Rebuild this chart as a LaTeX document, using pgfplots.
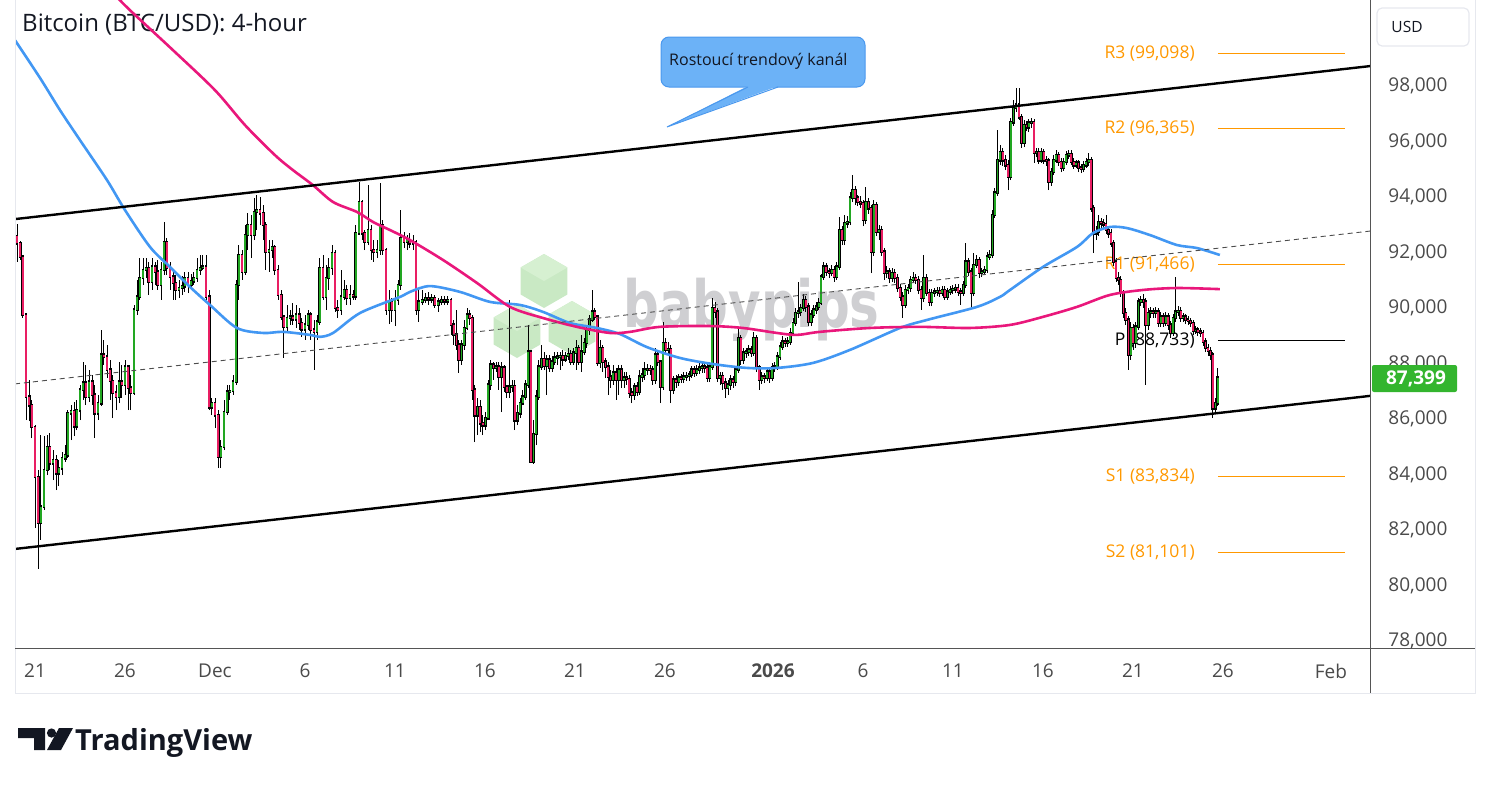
\documentclass[border=0pt]{standalone}
\usepackage{fontspec}
\setmainfont{Open Sans}
\newfontfamily\wmfont{DejaVu Sans}
\usepackage{pgfplots}
\usepackage{pgfplotstable}
\pgfplotsset{compat=1.18}

\newcommand\fs[1]{\fontsize{#1}{#1}\selectfont}

\definecolor{cup}{HTML}{22A722}
\definecolor{cdown}{HTML}{E91E63}
\definecolor{maBlue}{HTML}{4297F3}
\definecolor{maPink}{HTML}{E9177B}
\definecolor{pivotOr}{HTML}{FF9800}
\definecolor{ticktxt}{HTML}{4A4A4A}
\definecolor{midgray}{HTML}{4D4D4D}
\definecolor{frameLight}{HTML}{E6E8EE}
\definecolor{frameDark}{HTML}{555555}
\definecolor{callFill}{HTML}{6CB2F7}
\definecolor{callDraw}{HTML}{4A98EE}
\definecolor{priceGreen}{HTML}{33B52E}
\definecolor{wmGray}{HTML}{CFCFD2}
\definecolor{hexGreen}{HTML}{C9E9C4}
\definecolor{hexTop}{HTML}{D6F0D1}
\definecolor{tvDark}{HTML}{131722}

% 4-hour candles, x = days after 21 Nov
\pgfplotstableread{
x o h l c
-1.00 92500 92930 91570 92250
-0.83 92250 92320 91640 91750
-0.67 91750 91820 89550 89660
-0.50 89660 89730 85870 86710
-0.33 86710 87320 85830 86410
-0.17 86410 86600 85220 85620
0.00 85620 85690 81980 83820
0.17 83820 84070 80510 82160
0.33 82160 85330 81550 82740
0.50 82740 85290 82630 84070
0.67 84070 85330 83890 84900
0.83 84900 85400 84070 84320
1.00 84320 84790 83710 84430
1.17 84430 84610 83350 83960
1.33 83960 84430 83490 84140
1.50 84140 84720 83890 84500
1.67 84500 84970 84360 84610
1.83 84610 86230 84500 86120
2.00 86120 86410 85150 86190
2.17 86190 86520 85290 85650
2.33 85650 86600 85510 86230
2.50 86230 87140 85870 86960
2.67 86960 87970 86600 87210
2.83 87210 87860 86410 86710
3.00 86710 87680 86520 87250
3.17 87250 87500 86410 86780
3.33 86780 87140 85220 86120
3.50 86120 86780 85870 86480
3.67 86480 89120 86370 88220
3.83 88220 88760 87860 88150
4.00 88150 88580 87390 87680
4.17 87680 88040 86600 87280
4.33 87280 87500 85940 86850
4.50 86850 87140 86230 86710
4.67 86710 87970 86480 87250
4.83 87250 87860 86670 87140
5.00 87140 88040 86780 87790
5.17 87790 87860 86230 87030
5.33 87030 87500 86230 86850
5.50 86850 90020 86780 89840
5.67 89840 90920 89660 90310
5.83 90310 91710 90200 90990
6.00 90990 91710 90740 91280
6.17 91280 91710 90990 91350
6.33 91350 91570 90380 90850
6.50 90850 91710 90560 91390
6.67 91390 91570 90740 91210
6.83 91210 91640 90560 90740
7.00 90740 91570 90200 91280
7.17 91280 93010 91100 92290
7.33 92290 92430 91100 91350
7.50 91350 91570 90560 91030
7.67 91030 91280 90200 90810
7.83 90810 91100 90200 90560
8.00 90560 90920 90270 90630
8.17 90630 91060 90380 90700
8.33 90700 91210 90490 90990
8.50 90990 91210 90450 90740
8.67 90740 91130 90560 90880
8.83 90880 91210 90740 90990
9.00 90990 91710 90850 91280
9.17 91280 91820 91100 91350
9.33 91350 91820 91280 91390
9.50 91390 91820 90200 90310
9.67 90310 90560 86230 86340
9.83 86340 86670 86050 86480
10.00 86480 86670 85580 86050
10.17 86050 86230 84140 84540
10.33 84540 85150 84140 84900
10.50 84900 86600 84790 86160
10.67 86160 87140 86050 86890
10.83 86890 87140 86600 86920
11.00 86920 87500 86780 87250
11.17 87250 90920 87140 90740
11.33 90740 92180 90200 91820
11.50 91820 92000 90920 91210
11.67 91210 92900 91100 92540
11.83 92540 93330 92000 92900
12.00 92900 93260 91710 92540
12.17 92540 93880 92360 93370
12.33 93370 93980 92720 93440
12.50 93440 93910 92900 93330
12.67 93330 93620 92360 92900
12.83 92900 93010 91280 91930
13.00 91930 92360 91210 92000
13.17 92000 92360 91710 92110
13.33 92110 92180 91100 91280
13.50 91280 91460 90200 90380
13.67 90380 90560 89480 89590
13.83 89590 89660 88110 89230
14.00 89230 90020 89050 89550
14.17 89550 89840 89300 89590
14.33 89590 90090 89300 89510
14.50 89510 90020 89190 89660
14.67 89660 89910 89120 89370
14.83 89370 89550 88870 89150
15.00 89150 89660 88760 89300
15.17 89300 89840 89120 89660
15.33 89660 89770 88760 89120
15.50 89120 89480 87680 89050
15.67 89050 89660 88760 89410
15.83 89410 91710 89300 91350
16.00 91350 91820 90200 90310
16.17 90310 91460 89840 90990
16.33 90990 91710 90560 91350
16.50 91350 92180 91100 91890
16.67 91890 92000 89770 89910
16.83 89910 90200 89550 89840
17.00 89840 91280 89660 90310
17.17 90310 90920 90200 90560
17.33 90560 90740 90020 90270
17.50 90270 90740 90020 90380
17.67 90380 90560 90200 90340
17.83 90340 92900 90200 92610
18.00 92610 94450 92540 93730
18.17 93730 93800 92360 92610
18.33 92610 92720 92000 92290
18.50 92290 94340 92180 92720
18.67 92720 92900 91640 92000
18.83 92000 92360 91570 91930
19.00 91930 92360 91710 92000
19.17 92000 94420 91820 92900
19.33 92900 93080 91820 92000
19.50 92000 92070 89660 89840
19.67 89840 90560 89330 90130
19.83 90130 90270 89410 89840
20.00 89840 90560 89260 90200
20.17 90200 90920 90020 90740
20.33 90740 93440 90560 92430
20.50 92430 92650 92070 92290
20.67 92290 92540 92000 92360
20.83 92360 92610 92070 92250
21.00 92250 92540 92000 92290
21.17 92290 92360 89660 89840
21.33 89840 90560 89410 90130
21.51 90130 90560 90020 90200
21.69 90200 90450 90090 90270
21.86 90270 90490 90020 90230
22.04 90230 90410 90090 90270
22.22 90270 90380 89910 90020
22.40 90020 90270 89770 90130
22.58 90130 90340 90020 90200
22.75 90200 90340 90020 90160
22.93 90160 90340 90020 90200
23.11 90200 90270 88940 89300
23.26 89300 89480 88580 88940
23.41 88940 89840 88400 88580
23.55 88580 88760 87570 88040
23.70 88040 88760 87860 88580
23.85 88580 89480 88400 89190
24.00 89190 89910 89120 89660
24.15 89660 89840 89300 89550
24.29 89550 89660 86600 86960
24.44 86960 87140 85080 86050
24.59 86050 86670 85330 86340
24.74 86340 86600 85440 85760
24.88 85760 86050 85330 85690
25.03 85690 86160 85510 85940
25.18 85940 87320 85870 87140
25.33 87140 88040 86960 87860
25.48 87860 87970 87320 87750
25.62 87750 87970 87610 87790
25.77 87790 87970 86960 87430
25.92 87430 87970 86160 87750
26.07 87750 87860 86890 87070
26.22 87070 87140 86670 86890
26.36 86890 90200 86670 87070
26.51 87070 87320 86890 87100
26.66 87100 87320 85510 85870
26.81 85870 86410 85690 86120
26.96 86120 86670 85940 86480
27.10 86480 86960 86410 86710
27.25 86710 87320 86600 87140
27.40 87140 89300 87030 88330
27.55 88330 88400 84320 84360
27.69 84360 85870 84290 85370
27.84 85370 86960 84970 86710
27.99 86710 88040 86600 87790
28.14 87790 88580 87680 88070
28.29 88070 88330 87680 87820
28.43 87820 88220 86780 88040
28.58 88040 88220 87610 87750
28.73 87750 88180 87610 87970
28.88 87970 88330 87860 88110
29.03 88110 88330 87860 88150
29.17 88150 88330 87680 88180
29.32 88180 88400 87820 88070
29.47 88070 88330 87970 88180
29.62 88180 88470 88040 88250
29.77 88250 88400 87860 87970
29.91 87970 88470 87860 88290
30.06 88290 88760 87680 88470
30.21 88470 88580 87860 87970
30.36 87970 88940 87610 88330
30.51 88330 88830 88220 88650
30.65 88650 89300 88470 89120
30.80 89120 89660 88940 89480
30.95 89480 90560 89410 89770
31.10 89770 89910 89480 89590
31.24 89590 89660 87820 87930
31.39 87930 88760 87750 88470
31.54 88470 88580 87610 87970
31.69 87970 88110 87390 87790
31.84 87790 87970 86780 87430
31.98 87430 87680 87030 87320
32.13 87320 87860 87140 87570
32.28 87570 87750 86600 87320
32.44 87320 87860 86780 87680
32.58 87680 87860 87030 87320
32.73 87320 87610 87030 87390
32.87 87390 87610 87140 87350
33.02 87350 87500 86670 86850
33.16 86850 87030 86480 86780
33.31 86780 87210 86600 87070
33.45 87070 87250 86740 86890
33.59 86890 87680 86780 87430
33.74 87430 87750 87250 87500
33.88 87500 87970 87320 87680
34.03 87680 87890 87500 87710
34.17 87710 87860 87500 87680
34.32 87680 87820 87140 87320
34.46 87320 88470 87170 88220
34.60 88220 88400 87820 87970
34.75 87970 88040 86480 87070
34.89 87070 89410 86960 88650
35.04 88650 88830 88220 88400
35.18 88400 88690 88180 88430
35.33 88430 88580 86480 86960
35.47 86960 87460 86810 87320
35.61 87320 87500 87030 87250
35.76 87250 87530 87100 87390
35.90 87390 87530 87210 87350
36.05 87350 87610 87210 87430
36.19 87430 87610 87280 87460
36.34 87460 87640 87280 87500
36.48 87500 87820 87390 87680
36.62 87680 87820 87430 87570
36.77 87570 87860 87460 87680
36.91 87680 87970 87530 87750
37.06 87750 87970 87570 87790
37.20 87790 87970 87570 87750
37.35 87750 87890 87250 87390
37.49 87390 87970 87250 87790
37.63 87790 90270 87680 89910
37.78 89910 90130 89550 89770
37.92 89770 89910 87250 87390
38.07 87390 87610 87140 87460
38.21 87460 87610 86960 87210
38.36 87210 87390 86670 87030
38.50 87030 87320 86780 87140
38.64 87140 87500 86960 87320
38.79 87320 87460 87030 87250
38.93 87250 87820 87100 87680
39.08 87680 89230 87570 88830
39.22 88830 88940 87860 88040
39.37 88040 88470 87890 88290
39.51 88290 88470 88110 88330
39.66 88330 88580 88180 88400
39.80 88400 88540 88150 88290
39.94 88290 89050 88180 88830
40.09 88830 88940 87610 87750
40.23 87750 87860 86960 87320
40.38 87320 87610 87170 87430
40.52 87430 87570 87210 87390
40.67 87390 87750 87280 87610
40.81 87610 87750 87210 87390
40.95 87390 87930 87280 87750
41.10 87750 87970 87610 87790
41.24 87790 88330 87680 88150
41.39 88150 88690 88040 88510
41.53 88510 88900 88400 88690
41.68 88690 88830 88510 88650
41.82 88650 88870 88510 88690
41.96 88690 89190 88580 89010
42.11 89010 89550 88900 89370
42.25 89370 89910 89260 89730
42.40 89730 90850 89550 89770
42.54 89770 90050 89620 89910
42.69 89910 90410 89800 90200
42.83 90200 90340 89770 89950
42.97 89950 90090 89260 89410
43.12 89410 89840 89260 89660
43.26 89660 90020 89550 89840
43.41 89840 90130 89700 89950
43.55 89950 90270 89840 90090
43.67 90090 91130 90020 91030
43.81 91030 91570 90920 91390
43.96 91390 91530 91060 91210
44.11 91210 91350 90990 91170
44.26 91170 91460 91060 91280
44.40 91280 91420 90850 91030
44.55 91030 91570 90920 91390
44.69 91390 93190 91280 92720
44.84 92720 92860 92180 92360
44.99 92360 93260 92180 92970
45.13 92970 93220 92790 93010
45.28 93010 94090 92900 93880
45.43 93880 94700 93730 94160
45.57 94160 94310 93620 93880
45.72 93880 93980 93580 93730
45.87 93730 93950 93510 93690
46.01 93690 93800 92860 93080
46.16 93080 94270 92930 93730
46.31 93730 93880 93300 93510
46.45 93510 93620 91170 91930
46.60 91930 93800 91780 93620
46.74 93620 93730 92500 92650
46.89 92650 92900 92360 92720
47.04 92720 92860 91780 91930
47.18 91930 92070 90920 91170
47.33 91170 91420 90990 91210
47.48 91210 91350 90810 90990
47.62 90990 91350 90850 91170
47.77 91170 91310 90810 90990
47.92 90990 91130 90490 90630
48.06 90630 90770 90160 90310
48.21 90310 90490 89550 90020
48.35 90020 90740 89910 90560
48.50 90560 90770 90410 90630
48.65 90630 91060 90490 90920
48.79 90920 91210 90810 90990
48.94 90990 91130 90770 90920
49.09 90920 91060 90410 90560
49.23 90560 90700 89840 90270
49.38 90270 91820 90130 90990
49.53 90990 91130 90340 90450
49.67 90450 90590 89980 90130
49.82 90130 90590 89980 90450
49.97 90450 90630 90310 90490
50.11 90490 90670 90340 90520
50.26 90520 90670 90310 90450
50.40 90450 90700 90340 90560
50.55 90560 90700 90200 90310
50.70 90310 90630 90200 90490
50.84 90490 90700 90380 90560
50.99 90560 90740 90410 90590
51.14 90590 90770 90450 90630
51.28 90630 90770 90340 90490
51.43 90490 90630 90020 90450
51.58 90450 90880 90340 90740
51.72 90740 92250 90630 91570
51.87 91570 91710 91060 91210
52.01 91210 91350 89950 90450
52.16 90450 91890 90340 91460
52.31 91460 91820 91350 91640
52.45 91640 91750 90990 91170
52.60 91170 91350 91030 91210
52.75 91210 91420 91100 91280
52.89 91280 91930 91170 91750
53.04 91750 92000 91640 91820
53.19 91820 93440 91710 93260
53.33 93260 94240 93150 94060
53.48 94060 96320 93950 95240
53.63 95240 95780 95060 95530
53.77 95530 95680 95030 95240
53.92 95240 95420 94880 95060
54.06 95060 95240 94160 94630
54.21 94630 96760 94520 96610
54.36 96610 97400 96470 97120
54.50 97120 97840 96970 97230
54.67 97230 97840 96680 96790
54.81 96790 96900 95680 95860
54.95 95860 96680 95710 96500
55.08 96500 96650 96290 96430
55.22 96430 96720 96250 96580
55.36 96580 96760 96400 96610
55.50 96610 96720 95140 95500
55.64 95500 95680 95350 95530
55.77 95530 95680 95100 95240
55.91 95240 95680 95140 95530
56.05 95530 95640 95100 95240
56.19 95240 95390 95030 95210
56.33 95210 95320 94160 94450
56.47 94450 94960 94310 94810
56.60 94810 95420 94700 95240
56.74 95240 95600 95140 95420
56.88 95420 95530 95030 95170
57.02 95170 95320 94810 94960
57.16 94960 95320 94850 95170
57.29 95170 95570 95060 95420
57.43 95420 95600 95280 95460
57.57 95460 95600 95060 95170
57.71 95170 95320 94920 95060
57.85 95060 95240 94960 95140
57.98 95140 95240 94810 94960
58.12 94960 95100 94780 94920
58.26 94920 95210 94810 95060
58.40 95060 95320 94960 95170
58.54 95170 95500 95030 95240
58.68 95240 95350 93370 93510
58.81 93510 93620 91890 92610
58.95 92610 92860 92360 92650
59.09 92650 93260 92500 93010
59.23 93010 93150 92790 92970
59.37 92970 93110 92720 92930
59.50 92930 93260 92570 92720
59.64 92720 92860 92430 92610
59.78 92610 92750 92110 92250
59.92 92250 92360 91420 91570
60.06 91570 91710 90850 90990
60.19 90990 91210 90740 90920
60.33 90920 91060 90310 90450
60.47 90450 90560 89550 89730
60.61 89730 89910 89300 89480
60.75 89480 89620 87680 88220
60.88 88220 89410 88040 89190
61.02 89190 89340 88400 88650
61.16 88650 89410 88470 89230
61.30 89230 90270 89120 90130
61.44 90130 90340 89980 90200
61.58 90200 90410 89910 90130
61.71 90130 90270 87140 89300
61.85 89300 89910 89120 89730
61.99 89730 89950 89550 89770
62.13 89770 89910 89550 89730
62.27 89730 89950 89550 89770
62.40 89770 89910 89230 89370
62.54 89370 89770 89230 89590
62.68 89590 89730 89230 89370
62.82 89370 89770 89260 89590
62.96 89590 89730 89120 89300
63.09 89300 89440 88830 89010
63.23 89010 89690 88900 89550
63.37 89550 91030 89410 89770
63.51 89770 89980 89620 89800
63.65 89800 89950 89410 89550
63.78 89550 89730 89410 89590
63.92 89590 89690 89330 89480
64.06 89480 89620 89300 89440
64.20 89440 89550 89230 89370
64.34 89370 89480 88940 89080
64.48 89080 89260 88970 89120
64.61 89120 89230 88900 89050
64.75 89050 89190 88870 89010
64.89 89010 89120 88540 88690
65.03 88690 88830 88330 88470
65.17 88470 88610 88180 88360
65.30 88360 88510 88040 88220
65.44 88220 88330 85940 86300
65.58 86300 86670 86090 86480
65.72 86480 87750 86370 87399
}\candles

\begin{document}
\begin{tikzpicture}
\begin{scope}[x=1pt,y=-1pt]
  \path[use as bounding box] (0,0) rectangle (1491,785);
  % title
  \node[anchor=base west, inner sep=0pt, text=tvDark, font=\fs{24}] at (22,31) {Bitcoin (BTC/USD): 4-hour};
  % watermark
  \foreach \cx/\cy in {544/281, 517/331, 572/328} {
    \fill[hexGreen] (\cx,\cy) +(0,-27) -- +(23.4,-13.5) -- +(23.4,13.5) -- +(0,27) -- +(-23.4,13.5) -- +(-23.4,-13.5) -- cycle;
    \fill[hexTop] (\cx,\cy) +(0,-27) -- +(23.4,-13.5) -- +(0,0) -- +(-23.4,-13.5) -- cycle;
  }
  \node[anchor=base west, inner sep=0pt, text=wmGray, yscale=1.3, transform shape,
        font=\wmfont\bfseries\fs{50}] at (623,327) {babypips};
\end{scope}

\begin{axis}[
  at={(15pt,-648pt)}, anchor=south west,
  scale only axis, width=1355pt, height=648pt,
  xmin=-1.111, xmax=74.167, ymin=77656, ymax=101010,
  axis x line*=bottom, axis y line*=right,
  axis line style={draw=none}, tick style={draw=none},
  major tick length=0pt,
  scaled x ticks=false, scaled y ticks=false,
  xtick={0,5,10,15,20,25,30,35,41,46,51,56,61,66,72},
  xticklabels={21,26,Dec,6,11,16,21,26,\textbf{2026},6,11,16,21,26,Feb},
  ytick={78000,80000,82000,84000,86000,88000,90000,92000,94000,96000,98000},
  yticklabels={{78,000},{80,000},{82,000},{84,000},{86,000},{88,000},{90,000},{92,000},{94,000},{96,000},{98,000}},
  tick label style={font=\fs{19}, text=ticktxt, inner sep=0pt},
  xticklabel style={anchor=center, yshift=-23pt},
  yticklabel style={anchor=center, xshift=48pt, yshift=-2.5pt},
  colormap={candle}{color=(cdown) color=(cup)},
  point meta min=-1, point meta max=1,
]
% pivot labels
\node[anchor=east, inner sep=0pt, text=pivotOr, font=\fs{17.5}] at (axis cs:64.44,99098) {R3 (99,098)};
\node[anchor=east, inner sep=0pt, text=pivotOr, font=\fs{17.5}] at (axis cs:64.44,96365) {R2 (96,365)};
\node[anchor=east, inner sep=0pt, text=pivotOr, font=\fs{17.5}] at (axis cs:64.44,91466) {R1 (91,466)};
\node[anchor=east, inner sep=0pt, text=black, font=\fs{17.5}] at (axis cs:64.44,88733) {P (88,733)};
\node[anchor=east, inner sep=0pt, text=pivotOr, font=\fs{17.5}] at (axis cs:64.44,83834) {S1 (83,834)};
\node[anchor=east, inner sep=0pt, text=pivotOr, font=\fs{17.5}] at (axis cs:64.44,81101) {S2 (81,101)};

% candles: wicks, body outline, body colour
\addplot[black, line width=0.9pt, quiver={u=0, v=\thisrow{h}-\thisrow{l}}] table[x=x, y=l] {\candles};
\addplot[black, line width=2.9pt, line cap=rect, quiver={u=0, v=\thisrow{c}-\thisrow{o}}] table[x=x, y=o] {\candles};
\addplot[line width=1.7pt, point meta={min(max(\thisrow{c}-\thisrow{o},-1),1)},
  quiver={u=0, v=\thisrow{c}-\thisrow{o}, colored=mapped color}] table[x=x, y=o] {\candles};

% moving averages
\addplot[maBlue, line width=2.6pt, smooth] coordinates {
(-1.11,99560) (0.28,98200) (1.39,97040) (2.50,95960) (4.00,94520) (5.00,93440)
(6.39,92110) (7.50,91390) (8.61,90670) (9.72,90020) (11.22,89190) (12.67,89010)
(13.78,89050) (15.28,88940) (15.83,88870) (16.56,89010) (18.06,89730) (20.28,90310)
(20.83,90490) (21.94,90700) (23.61,90490) (25.28,90130) (26.94,90020) (28.22,89770)
(29.72,89370) (31.22,89190) (32.50,88970) (34.00,88500) (35.83,88110) (37.67,87890)
(39.56,87750) (41.22,87750) (43.22,87930) (45.28,88400) (48.06,89190) (49.56,89480)
(52.33,89950) (53.61,90310) (54.17,90560) (56.00,91390) (57.89,92110) (58.78,92610)
(59.72,92830) (60.67,92790) (61.94,92540) (63.44,92180) (64.56,92070) (65.83,91820)
};
\addplot[maPink, line width=2.6pt, smooth] coordinates {
(4.17,101370) (5.28,100640) (7.67,99200) (10.00,97760) (11.67,96500) (13.33,95420)
(14.33,94880) (15.44,94340) (16.56,93730) (17.89,93370) (18.78,93010) (19.72,92720)
(20.83,92360) (22.67,91640) (24.56,90810) (26.39,89950) (28.22,89550) (30.11,89230)
(31.94,89010) (33.06,89050) (34.72,89230) (37.50,89260) (39.33,89190) (41.22,89010)
(42.33,88940) (43.61,89050) (46.39,89190) (49.17,89230) (51.94,89190) (54.17,89300)
(56.00,89590) (57.89,89950) (59.72,90380) (61.56,90560) (63.44,90630) (65.83,90590)
};

% rising channel
\addplot[black, line width=2.4pt] coordinates {(-1.111,93114) (74.167,98628)};
\addplot[black, line width=2.4pt] coordinates {(-1.111,81226) (74.167,86742)};
\addplot[midgray, line width=0.9pt, dash pattern=on 5pt off 4pt] coordinates {(-1.111,87174) (74.167,92682)};

% pivot levels
\addplot[pivotOr, line width=1.1pt] coordinates {(65.72,99098) (72.78,99098)};
\addplot[pivotOr, line width=1.1pt] coordinates {(65.72,96365) (72.78,96365)};
\addplot[pivotOr, line width=1.1pt] coordinates {(65.72,91466) (72.78,91466)};
\addplot[black, line width=1.1pt] coordinates {(65.72,88733) (72.78,88733)};
\addplot[pivotOr, line width=1.1pt] coordinates {(65.72,83834) (72.78,83834)};
\addplot[pivotOr, line width=1.1pt] coordinates {(65.72,81101) (72.78,81101)};
\end{axis}

\begin{scope}[x=1pt,y=-1pt]
  % frame
  \draw[frameLight, line width=1pt] (15,0) -- (15,693) -- (1475,693) -- (1475,0);
  \draw[frameDark, line width=1pt] (15,648.5) -- (1475,648.5);
  \draw[frameDark, line width=1pt] (1370.5,0) -- (1370.5,693);
  % USD box
  \draw[frameLight, line width=1.2pt, rounded corners=5pt] (1377,8) rectangle (1469,46);
  \node[inner sep=0pt, text=tvDark, font=\fs{15.5}] at (1407,27) {USD};
  % last price (covers part of the 88,000 label, as in the original)
  \fill[priceGreen, rounded corners=2pt] (1372,365) rectangle (1457,392);
  \node[inner sep=0pt, text=white, font=\bfseries\fs{19}] at (1416,378.5) {87,399};
  % callout
  \draw[fill=callFill, draw=callDraw, line width=1pt, rounded corners=8pt] (661,37) rectangle (865,87);
  \fill[callFill] (748,86) -- (667,127) -- (778,86) -- cycle;
  \draw[callDraw, line width=1pt] (748,87) -- (667,127) -- (778,87);
  \node[anchor=west, inner sep=0pt, text=tvDark, font=\fs{16}] at (669,61) {Rostoucí trendový kanál};
  % TradingView logo
  \fill[tvDark] (18,728) -- (45,728) -- (45,750) -- (34,750) -- (34,738) -- (18,738) -- cycle;
  \fill[tvDark] (51.5,733) circle (4.6);
  \fill[tvDark] (59,728) -- (73,728) -- (61,750) -- (47,750) -- cycle;
  \node[anchor=base west, inner sep=0pt, text=tvDark, font=\bfseries\fs{29}] at (75,750) {TradingView};
  \pgfresetboundingbox
  \path[use as bounding box] (0,0) rectangle (1491,785);
\end{scope}
\end{tikzpicture}
\end{document}
